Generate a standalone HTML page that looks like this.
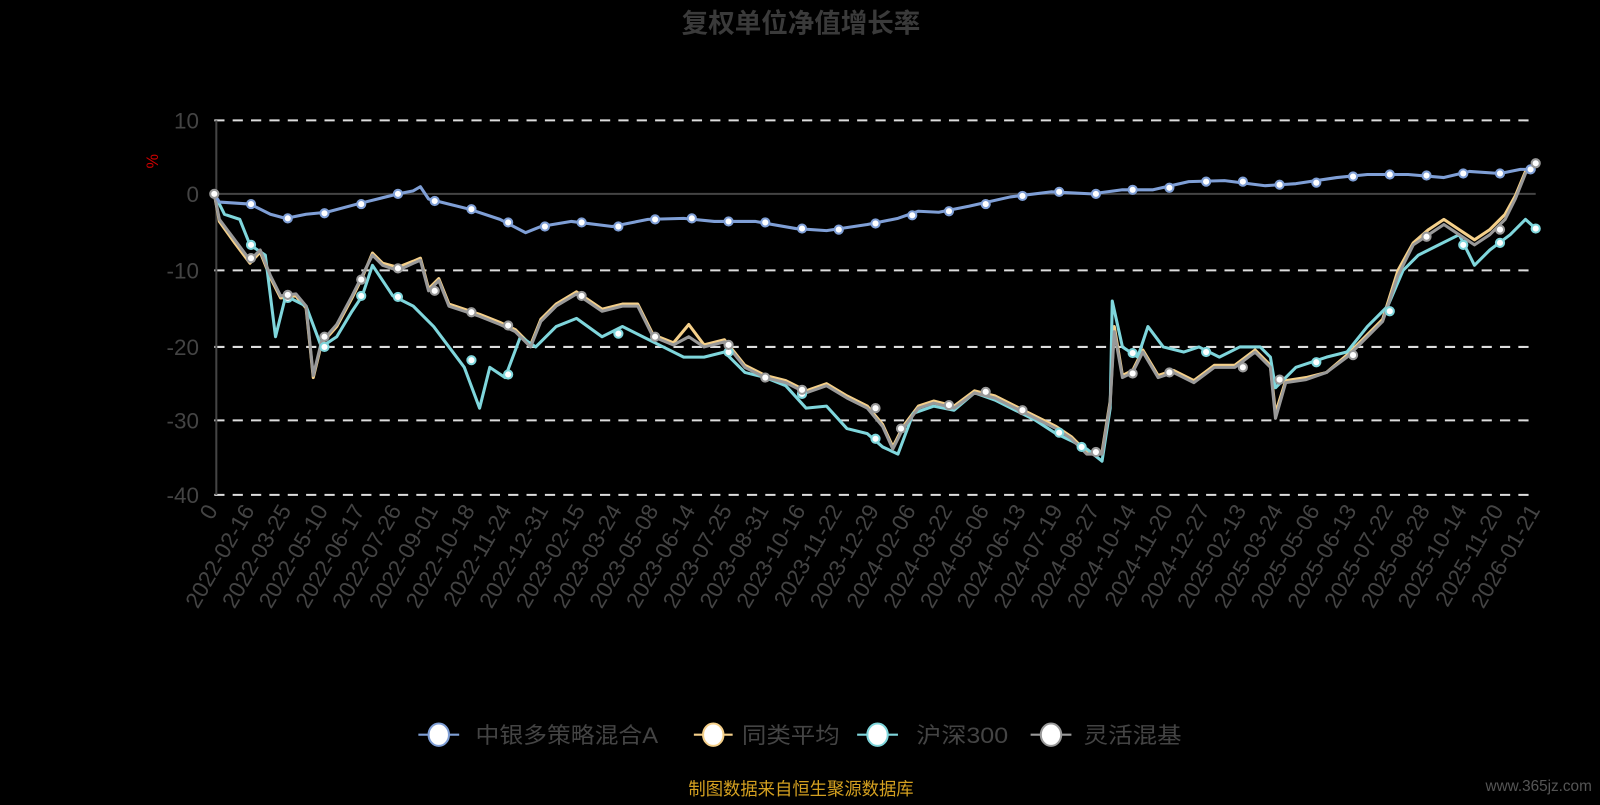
<!DOCTYPE html>
<html><head><meta charset="utf-8"><style>
body{margin:0;background:#000;}
text{font-family:"Liberation Sans","Noto Sans CJK SC",sans-serif;}
</style></head><body>
<svg width="1600" height="800" viewBox="0 0 1600 800" xmlns="http://www.w3.org/2000/svg">
<rect width="1600" height="800" fill="#000"/>
<g transform="scale(1.0204)">
<text x="785" y="32" text-anchor="middle" font-size="26" font-weight="bold" fill="#3a3a3a">复权单位净值增长率</text>
<g stroke="#ddd" stroke-width="2" stroke-dasharray="10,8">
<line x1="210" y1="118" x2="1505" y2="118"/>
<line x1="210" y1="265" x2="1505" y2="265"/>
<line x1="210" y1="340" x2="1505" y2="340"/>
<line x1="210" y1="412" x2="1505" y2="412"/>
<line x1="210" y1="485" x2="1505" y2="485"/>
</g>
<line x1="210" y1="190" x2="1505" y2="190" stroke="#444" stroke-width="2"/>
<line x1="212" y1="118" x2="212" y2="485" stroke="#444" stroke-width="2"/>
<g font-size="22" fill="#444" text-anchor="end">
<text x="195" y="126">10</text><text x="195" y="198">0</text><text x="195" y="273">-10</text>
<text x="195" y="348">-20</text><text x="195" y="420">-30</text><text x="195" y="493">-40</text>
</g>
<text x="155" y="158" font-size="16" fill="#c00" transform="rotate(-90 155 158)" text-anchor="middle">%</text>
<g fill="none" stroke-width="3" stroke-linejoin="round">
<polyline stroke="#f5d08a" points="210,190 215,217 230,238 245,258 255,247 265,272 275,292 290,290 300,302 307,370 315,337 330,320 345,292 355,272 365,248 375,258 390,262 405,256 412,253 420,283 430,273 440,298 455,303 470,308 490,316 505,323 520,338 530,313 545,298 565,286 590,303 610,298 625,298 640,328 660,336 675,318 690,338 710,333 730,358 750,368 770,373 790,383 810,376 830,388 850,398 865,416 875,438 885,418 900,398 915,393 935,398 955,383 975,388 995,398 1015,408 1035,418 1050,428 1065,443 1080,443 1088,393 1092,320 1100,368 1110,363 1120,343 1135,368 1150,363 1170,373 1190,358 1210,358 1230,343 1245,358 1250,405 1260,373 1280,370 1300,365 1320,348 1340,328 1355,313 1370,265 1385,238 1400,225 1415,215 1430,225 1445,235 1460,225 1475,210 1485,192 1495,168 1505,162"/>
<polyline stroke="#7fd6dc" points="210,190 220,210 235,215 245,240 260,250 270,330 280,290 300,300 315,340 330,330 345,305 355,290 365,260 385,290 405,300 425,320 440,340 455,360 470,400 480,360 495,370 510,330 525,340 545,320 565,312 590,330 610,320 630,330 650,340 670,350 690,350 710,345 730,365 750,370 770,378 790,400 810,398 830,420 850,425 865,438 880,445 895,405 915,398 935,402 955,385 975,392 995,402 1015,412 1035,425 1050,432 1065,440 1080,452 1088,400 1090,295 1100,340 1115,350 1125,320 1140,340 1160,345 1175,340 1195,350 1215,340 1235,340 1245,350 1250,380 1270,360 1300,350 1320,345 1340,320 1360,300 1375,265 1390,250 1410,240 1430,230 1445,260 1460,245 1480,230 1495,215 1505,224"/>
<polyline stroke="#999" points="210,190 215,215 230,235 245,255 255,245 265,270 275,290 290,288 300,300 307,368 315,335 330,318 345,290 355,270 365,250 375,260 390,265 405,258 412,255 420,285 430,275 440,300 455,305 470,310 490,318 505,325 520,340 530,315 545,300 565,288 590,305 610,300 625,300 640,330 660,338 675,330 690,340 710,335 730,360 750,370 770,375 790,385 810,378 830,390 850,400 865,418 875,440 885,420 900,400 915,395 935,400 955,385 975,390 995,400 1015,410 1035,420 1050,430 1065,445 1080,445 1088,395 1092,325 1100,370 1110,365 1120,345 1135,370 1150,365 1170,375 1190,360 1210,360 1230,345 1245,360 1250,410 1260,375 1280,372 1300,365 1320,350 1340,330 1355,315 1370,270 1385,240 1400,230 1415,220 1430,230 1445,240 1460,230 1475,215 1485,195 1495,170 1505,160"/>
<polyline stroke="#7f9fd6" points="210,190 215,198 245,200 265,210 280,214 300,210 320,208 350,200 370,195 390,190 405,187 412,183 420,195 440,200 460,205 490,215 515,228 530,222 560,217 600,222 635,215 670,214 700,217 740,217 780,224 810,226 850,220 880,214 900,207 920,208 950,202 990,193 1030,188 1070,190 1100,186 1130,186 1165,178 1200,177 1240,182 1270,180 1310,174 1340,171 1380,171 1415,174 1440,168 1470,170 1490,166 1505,166"/>
</g>
<g fill="#fff" stroke-width="2">
<g stroke="#7f9fd6"><circle cx="246" cy="200" r="4"/><circle cx="282" cy="214" r="4"/><circle cx="318" cy="209" r="4"/><circle cx="354" cy="200" r="4"/><circle cx="390" cy="190" r="4"/><circle cx="426" cy="197" r="4"/><circle cx="462" cy="205" r="4"/><circle cx="498" cy="218" r="4"/><circle cx="534" cy="222" r="4"/><circle cx="570" cy="218" r="4"/><circle cx="606" cy="222" r="4"/><circle cx="642" cy="215" r="4"/><circle cx="678" cy="214" r="4"/><circle cx="714" cy="217" r="4"/><circle cx="750" cy="218" r="4"/><circle cx="786" cy="224" r="4"/><circle cx="822" cy="225" r="4"/><circle cx="858" cy="219" r="4"/><circle cx="894" cy="211" r="4"/><circle cx="930" cy="207" r="4"/><circle cx="966" cy="200" r="4"/><circle cx="1002" cy="192" r="4"/><circle cx="1038" cy="188" r="4"/><circle cx="1074" cy="190" r="4"/><circle cx="1110" cy="186" r="4"/><circle cx="1146" cy="184" r="4"/><circle cx="1182" cy="178" r="4"/><circle cx="1218" cy="178" r="4"/><circle cx="1254" cy="181" r="4"/><circle cx="1290" cy="179" r="4"/><circle cx="1326" cy="173" r="4"/><circle cx="1362" cy="171" r="4"/><circle cx="1398" cy="172" r="4"/><circle cx="1434" cy="170" r="4"/><circle cx="1470" cy="170" r="4"/><circle cx="1500" cy="166" r="4"/></g>
<g stroke="#7fd6dc"><circle cx="246" cy="240" r="4"/><circle cx="282" cy="292" r="4"/><circle cx="318" cy="340" r="4"/><circle cx="354" cy="290" r="4"/><circle cx="390" cy="291" r="4"/><circle cx="462" cy="353" r="4"/><circle cx="498" cy="367" r="4"/><circle cx="606" cy="327" r="4"/><circle cx="714" cy="345" r="4"/><circle cx="786" cy="386" r="4"/><circle cx="858" cy="430" r="4"/><circle cx="1060" cy="438" r="4"/><circle cx="1038" cy="424" r="4"/><circle cx="1110" cy="346" r="4"/><circle cx="1182" cy="345" r="4"/><circle cx="1290" cy="355" r="4"/><circle cx="1362" cy="305" r="4"/><circle cx="1434" cy="240" r="4"/><circle cx="1470" cy="238" r="4"/><circle cx="1505" cy="224" r="4"/></g>
<g stroke="#999"><circle cx="210" cy="190" r="4"/><circle cx="246" cy="253" r="4"/><circle cx="282" cy="289" r="4"/><circle cx="318" cy="330" r="4"/><circle cx="354" cy="274" r="4"/><circle cx="390" cy="263" r="4"/><circle cx="426" cy="285" r="4"/><circle cx="462" cy="306" r="4"/><circle cx="498" cy="319" r="4"/><circle cx="570" cy="290" r="4"/><circle cx="642" cy="330" r="4"/><circle cx="714" cy="338" r="4"/><circle cx="750" cy="370" r="4"/><circle cx="786" cy="382" r="4"/><circle cx="858" cy="400" r="4"/><circle cx="883" cy="420" r="4"/><circle cx="930" cy="397" r="4"/><circle cx="966" cy="384" r="4"/><circle cx="1002" cy="402" r="4"/><circle cx="1074" cy="443" r="4"/><circle cx="1110" cy="366" r="4"/><circle cx="1146" cy="365" r="4"/><circle cx="1218" cy="360" r="4"/><circle cx="1254" cy="372" r="4"/><circle cx="1326" cy="348" r="4"/><circle cx="1398" cy="232" r="4"/><circle cx="1470" cy="225" r="4"/><circle cx="1505" cy="160" r="4"/></g>
</g>
<g font-size="22" fill="#444" text-anchor="end">
<text transform="translate(214,500) rotate(-60)">0</text>
<text transform="translate(250,500) rotate(-60)">2022-02-16</text>
<text transform="translate(286,500) rotate(-60)">2022-03-25</text>
<text transform="translate(322,500) rotate(-60)">2022-05-10</text>
<text transform="translate(358,500) rotate(-60)">2022-06-17</text>
<text transform="translate(394,500) rotate(-60)">2022-07-26</text>
<text transform="translate(430,500) rotate(-60)">2022-09-01</text>
<text transform="translate(466,500) rotate(-60)">2022-10-18</text>
<text transform="translate(502,500) rotate(-60)">2022-11-24</text>
<text transform="translate(538,500) rotate(-60)">2022-12-31</text>
<text transform="translate(574,500) rotate(-60)">2023-02-15</text>
<text transform="translate(610,500) rotate(-60)">2023-03-24</text>
<text transform="translate(646,500) rotate(-60)">2023-05-08</text>
<text transform="translate(682,500) rotate(-60)">2023-06-14</text>
<text transform="translate(718,500) rotate(-60)">2023-07-25</text>
<text transform="translate(754,500) rotate(-60)">2023-08-31</text>
<text transform="translate(790,500) rotate(-60)">2023-10-16</text>
<text transform="translate(826,500) rotate(-60)">2023-11-22</text>
<text transform="translate(862,500) rotate(-60)">2023-12-29</text>
<text transform="translate(898,500) rotate(-60)">2024-02-06</text>
<text transform="translate(934,500) rotate(-60)">2024-03-22</text>
<text transform="translate(970,500) rotate(-60)">2024-05-06</text>
<text transform="translate(1006,500) rotate(-60)">2024-06-13</text>
<text transform="translate(1042,500) rotate(-60)">2024-07-19</text>
<text transform="translate(1078,500) rotate(-60)">2024-08-27</text>
<text transform="translate(1114,500) rotate(-60)">2024-10-14</text>
<text transform="translate(1150,500) rotate(-60)">2024-11-20</text>
<text transform="translate(1186,500) rotate(-60)">2024-12-27</text>
<text transform="translate(1222,500) rotate(-60)">2025-02-13</text>
<text transform="translate(1258,500) rotate(-60)">2025-03-24</text>
<text transform="translate(1294,500) rotate(-60)">2025-05-06</text>
<text transform="translate(1330,500) rotate(-60)">2025-06-13</text>
<text transform="translate(1366,500) rotate(-60)">2025-07-22</text>
<text transform="translate(1402,500) rotate(-60)">2025-08-28</text>
<text transform="translate(1438,500) rotate(-60)">2025-10-14</text>
<text transform="translate(1474,500) rotate(-60)">2025-11-20</text>
<text transform="translate(1510,500) rotate(-60)">2026-01-21</text>
</g>
<g font-size="22" fill="#444">
<line x1="410" y1="720" x2="450" y2="720" stroke="#7f9fd6" stroke-width="2"/><ellipse cx="430" cy="720" rx="10" ry="11" fill="#fff" stroke="#7f9fd6" stroke-width="2"/>
<text x="466" y="728" textLength="179" lengthAdjust="spacingAndGlyphs">中银多策略混合A</text>
<line x1="680" y1="720" x2="718" y2="720" stroke="#f5d08a" stroke-width="2"/><ellipse cx="699" cy="720" rx="10" ry="11" fill="#fff" stroke="#f5d08a" stroke-width="2"/>
<text x="727" y="728" textLength="96" lengthAdjust="spacingAndGlyphs">同类平均</text>
<line x1="840" y1="720" x2="880" y2="720" stroke="#7fd6dc" stroke-width="2"/><ellipse cx="860" cy="720" rx="10" ry="11" fill="#fff" stroke="#7fd6dc" stroke-width="2"/>
<text x="898" y="728" textLength="90" lengthAdjust="spacingAndGlyphs">沪深300</text>
<line x1="1010" y1="720" x2="1050" y2="720" stroke="#999" stroke-width="2"/><ellipse cx="1030" cy="720" rx="10" ry="11" fill="#fff" stroke="#999" stroke-width="2"/>
<text x="1062" y="728" textLength="96" lengthAdjust="spacingAndGlyphs">灵活混基</text>
</g>
<text x="785" y="779" font-size="17" fill="#d4a020" text-anchor="middle">制图数据来自恒生聚源数据库</text>
<text x="1560" y="775" font-size="15" fill="#555" text-anchor="end">www.365jz.com</text>
</g>
</svg>
</body></html>
